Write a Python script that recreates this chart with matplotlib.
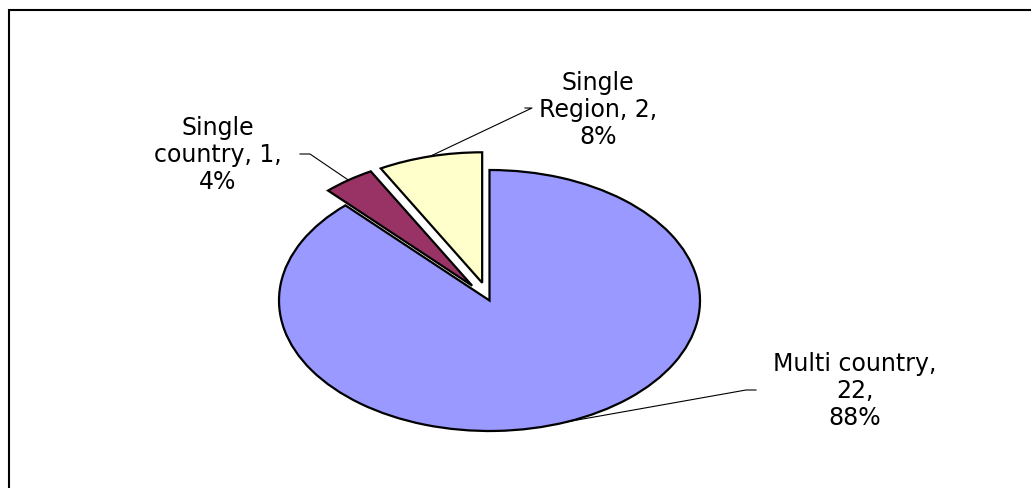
import numpy as np
import matplotlib
matplotlib.use("Agg")
import matplotlib.pyplot as plt
from matplotlib.patches import Rectangle

matplotlib.rcParams['font.family'] = "DejaVu Sans"
matplotlib.rcParams['font.size'] = 17

categories = ["Multi country", "Single country", "Single Region"]
counts = [22, 1, 2]
percents = [88, 4, 8]
colors = ["#9999FF", "#993366", "#FFFFCC"]
explode = [0, 0.14, 0.14]

W, H = 1031, 489
fig = plt.figure(figsize=(W / 100, H / 100), dpi=100)
ax = fig.add_axes([0, 0, 1, 1])

wedges, _ = ax.pie(counts, colors=colors, explode=explode, startangle=90,
                   counterclock=False,
                   wedgeprops=dict(edgecolor="black", linewidth=1.6))

# stretch the pie into an ellipse: 1 unit = 210.5 px across, 130.5 px up
cx, cy, rx, ry = 489.5, 301.5, 210.5, 130.5
ax.set_aspect("auto")
ax.set_xlim(-cx / rx, (W - cx) / rx)
ax.set_ylim(-(H - cy) / ry, cy / ry)
ax.axis("off")


def px(x, y):
    return (x - cx) / rx, (cy - y) / ry


# label text centre and the elbow of each leader line (pixels)
label_xy = [(855, 391), (218, 155), (598, 110)]
elbow = [((756, 391), (746, 391)), ((300, 155), (310, 155)), ((525, 109), (532, 109))]

for i, w in enumerate(wedges):
    mid = np.deg2rad((w.theta1 + w.theta2) / 2)
    ox, oy = w.center
    ax_, ay_ = ox + np.cos(mid), oy + np.sin(mid)
    (x0, y0), (x1, y1) = elbow[i]
    p0, p1 = px(x0, y0), px(x1, y1)
    ax.plot([p0[0], p1[0], ax_], [p0[1], p1[1], ay_], color="black", lw=0.8)
    words = categories[i].split(" ")
    text = f"{words[0]}\n{words[1]}, {counts[i]},\n{percents[i]}%"
    if i == 0:
        text = f"{categories[i]},\n{counts[i]},\n{percents[i]}%"
    tx, ty = px(*label_xy[i])
    ax.text(tx, ty, text, ha="center", va="center", linespacing=1.18)

# chart area border (top and left edges visible)
fig.patches.append(Rectangle((9 / W, -0.1), 1.2, 1.1 - 10.5 / H,
                             transform=fig.transFigure, fill=False,
                             edgecolor="black", linewidth=1.5))

fig.savefig("out.png", dpi=100)
